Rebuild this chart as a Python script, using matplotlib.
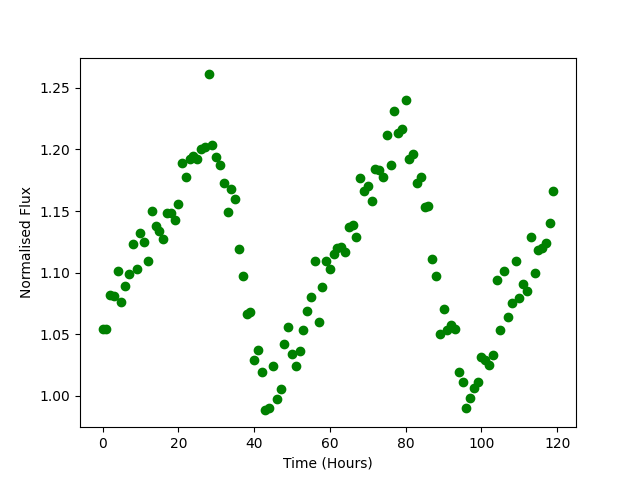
import numpy as np
import matplotlib
matplotlib.use('Agg')
import matplotlib.pyplot as plt

# time in hours, one sample per hour
time = np.arange(120)

# normalised flux
flux = [1.054, 1.054, 1.082, 1.081, 1.101, 1.076, 1.089, 1.099, 1.123, 1.103,
        1.132, 1.125, 1.109, 1.150, 1.138, 1.134, 1.127, 1.148, 1.148, 1.143,
        1.156, 1.189, 1.178, 1.192, 1.195, 1.192, 1.200, 1.202, 1.261, 1.204,
        1.194, 1.187, 1.173, 1.149, 1.168, 1.160, 1.119, 1.097, 1.066, 1.068,
        1.029, 1.037, 1.019, 0.988, 0.990, 1.024, 0.997, 1.005, 1.042, 1.056,
        1.034, 1.024, 1.036, 1.053, 1.069, 1.080, 1.109, 1.060, 1.088, 1.109,
        1.103, 1.115, 1.120, 1.121, 1.117, 1.137, 1.139, 1.129, 1.177, 1.166,
        1.170, 1.158, 1.184, 1.183, 1.178, 1.212, 1.187, 1.231, 1.213, 1.217,
        1.240, 1.192, 1.196, 1.173, 1.178, 1.153, 1.154, 1.111, 1.097, 1.050,
        1.070, 1.053, 1.057, 1.054, 1.019, 1.011, 0.990, 0.998, 1.006, 1.011,
        1.031, 1.029, 1.025, 1.033, 1.094, 1.053, 1.101, 1.064, 1.075, 1.109,
        1.079, 1.091, 1.085, 1.129, 1.100, 1.118, 1.120, 1.124, 1.140, 1.166]

fig = plt.figure(figsize=(6.4, 4.8), dpi=100)
plt.plot(time, flux, 'go')
plt.xlabel('Time (Hours)')
plt.ylabel('Normalised Flux')
plt.savefig('out.png')
